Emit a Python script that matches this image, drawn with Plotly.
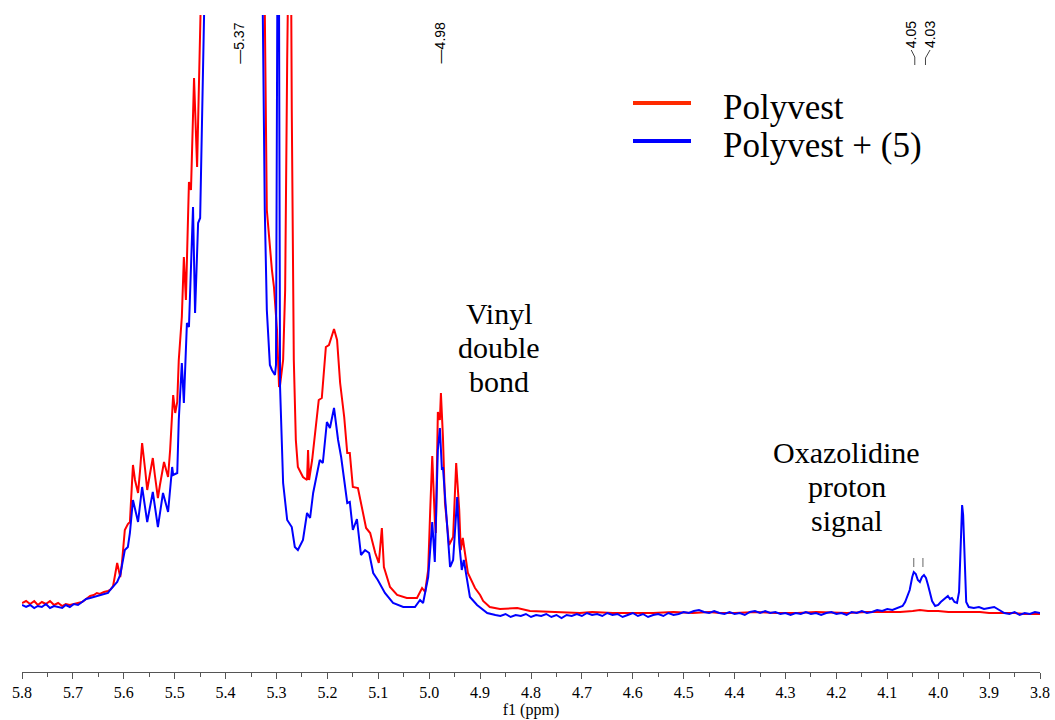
import plotly.graph_objects as go

# ---------------- data ----------------
red_ppm = [5.800, 5.792, 5.784, 5.776, 5.769, 5.761, 5.753, 5.745, 5.737, 5.729, 5.721, 5.714,
           5.706, 5.698, 5.690, 5.682, 5.674, 5.666, 5.659, 5.653, 5.647, 5.639, 5.631, 5.627,
           5.621, 5.617, 5.613, 5.607, 5.604, 5.598, 5.592, 5.588, 5.582, 5.578, 5.572, 5.568,
           5.564, 5.558, 5.554, 5.549, 5.543, 5.539, 5.533, 5.529, 5.521, 5.513, 5.509, 5.503,
           5.499, 5.495, 5.492, 5.486, 5.482, 5.478, 5.472, 5.468, 5.462, 5.456, 5.450, 5.446,
           5.440, 5.400, 5.370, 5.340, 5.325, 5.319, 5.313, 5.309, 5.305, 5.299, 5.295, 5.293,
           5.287, 5.283, 5.279, 5.277, 5.273, 5.270, 5.266, 5.262, 5.258, 5.248, 5.240, 5.238,
           5.236, 5.230, 5.224, 5.217, 5.211, 5.203, 5.197, 5.191, 5.187, 5.181, 5.175, 5.167,
           5.161, 5.156, 5.150, 5.140, 5.132, 5.124, 5.116, 5.106, 5.099, 5.093, 5.089, 5.077,
           5.063, 5.044, 5.024, 5.014, 5.008, 5.002, 4.998, 4.994, 4.989, 4.987, 4.983, 4.979,
           4.977, 4.973, 4.969, 4.961, 4.953, 4.947, 4.941, 4.938, 4.934, 4.924, 4.910, 4.900,
           4.894, 4.881, 4.861, 4.841, 4.827, 4.802, 4.763, 4.740, 4.704, 4.680, 4.639, 4.600,
           4.560, 4.520, 4.482, 4.450, 4.429, 4.400, 4.356, 4.320, 4.277, 4.240, 4.200, 4.179,
           4.140, 4.114, 4.075, 4.050, 4.036, 4.020, 4.000, 3.980, 3.963, 3.940, 3.918, 3.900,
           3.873, 3.850, 3.830, 3.800]
red_int = [7, 9, 6, 9, 5, 8, 6, 9, 5, 7, 4, 6,
           5, 6, 7, 8, 11, 14, 15, 17, 16, 18, 19, 20,
           24, 35, 47, 33, 45, 80, 86, 88, 145, 130, 117, 140,
           167, 140, 120, 135, 152, 135, 112, 125, 148, 133, 160, 215,
           197, 208, 250, 293, 353, 310, 428, 420, 532, 443, 560, 700,
           900, 1800, 2400, 1800, 700, 400, 362, 340, 323, 280, 223, 225,
           250, 320, 550, 800, 800, 500, 250, 170, 143, 133, 130, 160,
           130, 150, 177, 210, 212, 263, 265, 275, 281, 270, 227, 193,
           157, 157, 123, 122, 103, 82, 77, 57, 47, 82, 43, 23,
           15, 12, 12, 22, 18, 40, 100, 154, 90, 77, 198, 190,
           217, 173, 107, 65, 73, 147, 100, 60, 72, 37, 22, 15,
           9, 3, 1, 2, 2, -1, -2, -2, -3, -2, -3, -3,
           -3, -2, -3, -2, -3, -3, -2, -3, -3, -2, -3, -3,
           -2, -2, -2, -1, 0, -1, -1, -2, -2, -2, -2, -3,
           -3, -3, -4, -4]

blue_ppm = [5.800, 5.792, 5.784, 5.776, 5.769, 5.761, 5.753, 5.745, 5.737, 5.729, 5.721, 5.714,
            5.706, 5.698, 5.690, 5.682, 5.674, 5.666, 5.659, 5.653, 5.647, 5.639, 5.631, 5.627,
            5.617, 5.613, 5.607, 5.598, 5.592, 5.588, 5.582, 5.572, 5.564, 5.554, 5.543, 5.533,
            5.523, 5.513, 5.505, 5.503, 5.495, 5.492, 5.486, 5.482, 5.476, 5.472, 5.464, 5.460,
            5.454, 5.450, 5.444, 5.440, 5.400, 5.370, 5.340, 5.327, 5.323, 5.319, 5.313, 5.309,
            5.303, 5.301, 5.299, 5.297, 5.295, 5.293, 5.287, 5.279, 5.270, 5.264, 5.258, 5.248,
            5.240, 5.234, 5.228, 5.215, 5.209, 5.201, 5.195, 5.187, 5.179, 5.173, 5.167, 5.161,
            5.156, 5.150, 5.142, 5.134, 5.126, 5.118, 5.110, 5.101, 5.087, 5.071, 5.051, 5.028,
            5.018, 5.012, 5.002, 4.994, 4.989, 4.983, 4.979, 4.975, 4.973, 4.965, 4.959, 4.953,
            4.945, 4.941, 4.936, 4.932, 4.920, 4.906, 4.886, 4.870,
            4.86, 4.85, 4.84, 4.83, 4.82, 4.81, 4.80, 4.79, 4.78, 4.77, 4.76, 4.75, 4.74, 4.73,
            4.72, 4.71, 4.70, 4.69, 4.68, 4.67, 4.66, 4.65, 4.64, 4.63, 4.62, 4.61, 4.60, 4.59,
            4.58, 4.57, 4.56, 4.55, 4.54, 4.53, 4.52, 4.51, 4.50, 4.49, 4.48, 4.47, 4.46, 4.45,
            4.44, 4.43, 4.42, 4.41, 4.40, 4.39, 4.38, 4.37, 4.36, 4.35, 4.34, 4.33, 4.32, 4.31,
            4.30, 4.29, 4.28, 4.27, 4.26, 4.25, 4.24, 4.23, 4.22, 4.21, 4.20, 4.19, 4.18, 4.17,
            4.16, 4.15, 4.14, 4.13, 4.12, 4.11, 4.10, 4.09, 4.08, 4.07, 4.065, 4.061, 4.056,
            4.051, 4.048, 4.044, 4.040, 4.036, 4.032, 4.028, 4.024, 4.020, 4.016, 4.012, 4.006,
            4.000, 3.995, 3.991, 3.986, 3.981, 3.977, 3.973, 3.968, 3.963, 3.959, 3.957, 3.955,
            3.953, 3.951, 3.949, 3.947, 3.945, 3.940, 3.93, 3.92, 3.91, 3.90, 3.89, 3.88, 3.87,
            3.86, 3.85, 3.84, 3.83, 3.82, 3.81, 3.80]
blue_int = [5, 3, 5, 2, 4, 3, 6, 2, 4, 3, 2, 5,
            3, 6, 5, 8, 11, 12, 13, 14, 15, 16, 17, 20,
            25, 28, 35, 60, 63, 77, 110, 88, 123, 88, 118, 83,
            117, 98, 143, 135, 137, 190, 247, 207, 287, 283, 403, 297,
            387, 392, 550, 800, 1700, 2300, 1700, 600, 400, 300, 245, 240,
            235, 245, 500, 800, 600, 223, 127, 90, 83, 63, 60, 70,
            97, 92, 117, 150, 147, 188, 182, 202, 170, 153, 130, 107,
            108, 80, 91, 55, 60, 57, 37, 30, 17, 7, 3, 3,
            10, 7, 33, 88, 48, 160, 182, 140, 143, 80, 43, 50,
            113, 67, 40, 50, 13, 5, -3, -5,
            -6, -4, -7, -5, -6, -4, -7, -5, -6, -4, -7, -5, -8, -5,
            -6, -4, -6, -3, -5, -4, -6, -3, -5, -4, -7, -5, -3, -6,
            -4, -7, -5, -4, -6, -3, -5, -4, -2, -3, -1, 0, -2, -3,
            -1, -3, -4, -2, -4, -3, -5, -2, -1, -3, -1, -3, -2, -4,
            -3, -5, -3, -4, -2, -4, -3, -5, -3, -2, -4, -3, -5, -2,
            -3, -1, -3, -2, 0, -1, 1, 0, 2, 4, 8, 13, 20,
            33, 38, 36, 30, 28, 33, 35, 32, 25, 16, 9, 4,
            5, 8, 10, 12, 14, 11, 12, 8, 7, 18, 50, 85,
            105, 95, 60, 25, 8, 3, 2, 3, 1, 2, 3, 0, -3,
            -4, -2, -5, -3, -4, -2, -3]

series_names = ["Polyvest", "Polyvest + (5)"]
peak_labels = ["5.37", "4.98", "4.05", "4.03"]
peak_ppm = [5.374, 4.978, 4.053, 4.016]

RED = "#ff0000"
BLUE = "#0000ff"
SERIF = "Liberation Serif"
SANS = "Liberation Sans"

fig = go.Figure()
fig.add_trace(go.Scatter(x=red_ppm, y=red_int, mode="lines", name=series_names[0],
                         line=dict(color=RED, width=2), showlegend=False))
fig.add_trace(go.Scatter(x=blue_ppm, y=blue_int, mode="lines", name=series_names[1],
                         line=dict(color=BLUE, width=2), showlegend=False))

def py2paper(py):
    return (672 - py) / 657.0

annotations = []
shapes = []
# Peak labels at top
for lab, xp in zip(peak_labels[:2], peak_ppm[:2]):
    annotations.append(dict(x=xp, xref="x", y=py2paper(43), yref="paper", text="\u2014" + lab,
                            textangle=-90, showarrow=False, xanchor="center", yanchor="middle",
                            font=dict(family=SANS, size=14, color="black")))
for lab, xp in zip(peak_labels[2:], peak_ppm[2:]):
    annotations.append(dict(x=xp, xref="x", y=py2paper(35), yref="paper", text=lab,
                            textangle=-90, showarrow=False, xanchor="center", yanchor="middle",
                            font=dict(family=SANS, size=14, color="black")))
# connectors for 4.05 / 4.03
shapes.append(dict(type="path", xref="x", yref="paper", line=dict(color="#444", width=1),
                   path=f"M 4.053 {py2paper(50)} L 4.046 {py2paper(57)} L 4.046 {py2paper(65)}"))
shapes.append(dict(type="path", xref="x", yref="paper", line=dict(color="#444", width=1),
                   path=f"M 4.016 {py2paper(50)} L 4.025 {py2paper(58)} L 4.025 {py2paper(65)}"))
# small peak-pick markers
for xp in [4.048, 4.030]:
    shapes.append(dict(type="line", xref="x", yref="y", x0=xp, x1=xp, y0=43, y1=52,
                       line=dict(color="#666", width=1)))

# Text labels
for i, t in enumerate(["Vinyl", "double", "bond"]):
    annotations.append(dict(x=4.862, xref="x", y=py2paper(313 + 34 * i), yref="paper", text=t,
                            showarrow=False, xanchor="center", yanchor="middle",
                            font=dict(family=SERIF, size=30, color="black")))
for i, t in enumerate(["Oxazolidine", "proton", "signal"]):
    annotations.append(dict(x=4.180, xref="x", y=py2paper(452 + 34 * i), yref="paper", text=t,
                            showarrow=False, xanchor="center", yanchor="middle",
                            font=dict(family=SERIF, size=30, color="black")))

# Custom legend
leg_colors = ["#ff2a00", BLUE]
leg_y = [103, 141]
for name, c, yy in zip(series_names, leg_colors, leg_y):
    shapes.append(dict(type="line", xref="paper", yref="paper",
                       x0=(633 - 22) / 1018, x1=(691 - 22) / 1018,
                       y0=py2paper(yy), y1=py2paper(yy), line=dict(color=c, width=4)))
    annotations.append(dict(x=(721 - 22) / 1018, xref="paper", y=py2paper(yy + 4), yref="paper",
                            text=name, showarrow=False, xanchor="left", yanchor="middle",
                            font=dict(family=SERIF, size=35, color="black")))

fig.update_layout(
    width=1055, height=720,
    margin=dict(l=22, r=15, t=15, b=48),
    paper_bgcolor="white", plot_bgcolor="white",
    annotations=annotations, shapes=shapes,
    xaxis=dict(range=[5.8, 3.8], autorange=False, automargin=False, dtick=0.1, tick0=3.8,
               tickformat=".1f",
               showgrid=False, zeroline=False, showline=True, linecolor="#555", linewidth=1,
               ticks="outside", ticklen=6, tickcolor="#555",
               minor=dict(dtick=0.05, ticks="outside", ticklen=4, tickcolor="#555"),
               tickfont=dict(family=SERIF, size=16, color="black"),
               title=dict(text="f1 (ppm)", font=dict(family=SERIF, size=16, color="black"),
                          standoff=2)),
    yaxis=dict(range=[-62, 595], autorange=False, visible=False, automargin=False),
)

fig.write_html("out.html", config={"displayModeBar": False},
               post_script="document.body.style.margin='0';document.body.style.padding='0';")
